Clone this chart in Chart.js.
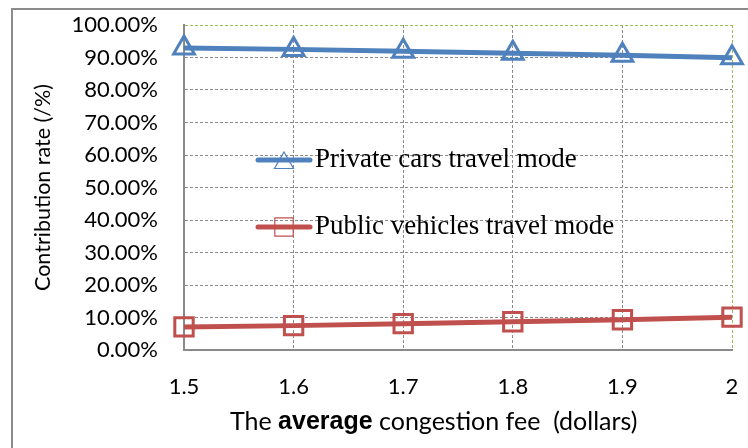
<!DOCTYPE html>
<html>
<head>
<meta charset="utf-8">
<script src="https://cdn.jsdelivr.net/npm/chart.js@4"></script>
<style>
  html, body { margin: 0; padding: 0; background: #fff; }
  #wrap { width: 748px; height: 448px; }
</style>
</head>
<body>
<div id="wrap"><canvas id="contribChart" width="748" height="448"></canvas></div>
<script>
// data
const fees = ['1.5', '1.6', '1.7', '1.8', '1.9', '2'];
const privateCars = [92.9, 92.5, 91.9, 91.3, 90.7, 89.9];
const publicVehicles = [7.1, 7.5, 8.1, 8.7, 9.3, 10.1];
const seriesNames = ['Private cars travel mode', 'Public vehicles travel mode'];
const xTitleParts = [['The ', false], ['average', true], [' congestion fee  (dollars)', false]];
const yTitle = 'Contribution rate (/%)';

const gridGray = '#8a8a8a';
const gridGreen = '#9bbb59';

// grey frame + white background (the reference is a crop of a framed chart)
const framePlugin = {
  id: 'frame',
  beforeDraw(chart) {
    const ctx = chart.ctx;
    ctx.save();
    ctx.fillStyle = '#fff';
    ctx.fillRect(0, 0, chart.width, chart.height);
    ctx.strokeStyle = '#8c8c8c';
    ctx.lineWidth = 2;
    ctx.beginPath();
    ctx.moveTo(12, chart.height + 2);
    ctx.lineTo(12, 9);
    ctx.lineTo(chart.width + 2, 9);
    ctx.stroke();
    ctx.restore();
  }
};

// legend sits inside the plot, Excel style, serif text
const innerLegend = {
  id: 'innerLegend',
  afterDraw(chart) {
    const ctx = chart.ctx;
    const area = chart.chartArea;
    const x0 = area.left + 74;
    const rows = [area.top + 135, area.top + 202];
    ctx.save();
    chart.data.datasets.forEach((ds, i) => {
      const y = rows[i];
      ctx.strokeStyle = ds.borderColor;
      ctx.lineWidth = 5;
      ctx.lineCap = 'round';
      ctx.beginPath();
      ctx.moveTo(x0, y);
      ctx.lineTo(x0 + 52, y);
      ctx.stroke();
      ctx.lineCap = 'butt';
      ctx.fillStyle = 'rgba(0,0,0,0)';
      ctx.strokeStyle = ds.borderColor;
      ctx.lineWidth = 1.2;
      const isRect = ds.pointStyle === 'rect';
      Chart.helpers.drawPoint(ctx, {
        pointStyle: ds.pointStyle,
        radius: isRect ? 13 : 11,
        borderWidth: 1.2,
        rotation: 0
      }, x0 + 26, isRect ? y : y + 3);
      ctx.fillStyle = '#000';
      ctx.font = '27px "Liberation Serif", "Times New Roman", serif';
      ctx.textBaseline = 'middle';
      ctx.textAlign = 'left';
      ctx.fillText(ds.label, x0 + 57, y);
    });
    ctx.restore();
  }
};

// x axis title with the bold word, as in the reference
const xTitlePlugin = {
  id: 'xTitle',
  afterDraw(chart) {
    const ctx = chart.ctx;
    const area = chart.chartArea;
    const normal = '25px Lato, "Open Sans", sans-serif';
    const bold = 'bold 25px "Liberation Sans", Arial, sans-serif';
    ctx.save();
    let x = area.left + 46;
    const y = area.bottom + 72;
    ctx.fillStyle = '#000';
    ctx.textBaseline = 'middle';
    ctx.textAlign = 'left';
    xTitleParts.forEach(([t, b]) => {
      ctx.font = b ? bold : normal;
      ctx.fillText(t, x, y);
      x += ctx.measureText(t).width;
    });
    ctx.restore();
  }
};

const ctxEl = document.getElementById('contribChart');

new Chart(ctxEl, {
  type: 'line',
  data: {
    labels: fees,
    datasets: [
      {
        label: seriesNames[0],
        data: privateCars,
        borderColor: '#4f81bd',
        backgroundColor: '#4f81bd',
        borderWidth: 5,
        pointStyle: 'triangle',
        pointRadius: 12,
        pointHoverRadius: 12,
        pointBorderWidth: 3,
        pointBackgroundColor: 'rgba(0,0,0,0)',
        pointBorderColor: '#4f81bd',
        tension: 0,
        clip: false
      },
      {
        label: seriesNames[1],
        data: publicVehicles,
        borderColor: '#c0504d',
        backgroundColor: '#c0504d',
        borderWidth: 5,
        pointStyle: 'rect',
        pointRadius: 13,
        pointHoverRadius: 13,
        pointBorderWidth: 3,
        pointBackgroundColor: 'rgba(0,0,0,0)',
        pointBorderColor: '#c0504d',
        tension: 0,
        clip: false
      }
    ]
  },
  options: {
    responsive: false,
    animation: false,
    events: [],
    layout: {
      padding: { left: 14, right: 11, top: 25, bottom: 0 }
    },
    plugins: {
      legend: { display: false },
      tooltip: { enabled: false }
    },
    scales: {
      x: {
        offset: false,
        grid: {
          color: (c) => c.index === fees.length - 1 ? gridGreen : gridGray,
          lineWidth: 1,
          drawTicks: false
        },
        border: { display: true, color: gridGray, width: 2, dash: [3, 2] },
        ticks: {
          color: '#000',
          font: { family: 'Lato', size: 22 },
          padding: 24,
          maxRotation: 0
        },
        afterFit: (s) => {
          s.height = 98;
          s.paddingLeft = 0;
          s.paddingRight = 0;
        }
      },
      y: {
        min: 0,
        max: 100,
        grid: {
          color: (c) => c.tick && c.tick.value === 100 ? gridGreen : gridGray,
          lineWidth: 1,
          drawTicks: false
        },
        border: { display: true, color: gridGray, width: 2, dash: [3, 2] },
        ticks: {
          stepSize: 10,
          color: '#000',
          font: { family: 'Lato', size: 22 },
          padding: 26,
          callback: (v) => v.toFixed(2) + '%'
        },
        title: {
          display: true,
          text: yTitle,
          color: '#000',
          font: { family: 'Lato', size: 21.5 },
          padding: { top: 16, bottom: 0 }
        },
        afterFit: (s) => {
          s.width = 170;
          s.paddingTop = 0;
          s.paddingBottom = 0;
        }
      }
    }
  },
  plugins: [framePlugin, innerLegend, xTitlePlugin]
});
</script>
</body>
</html>
